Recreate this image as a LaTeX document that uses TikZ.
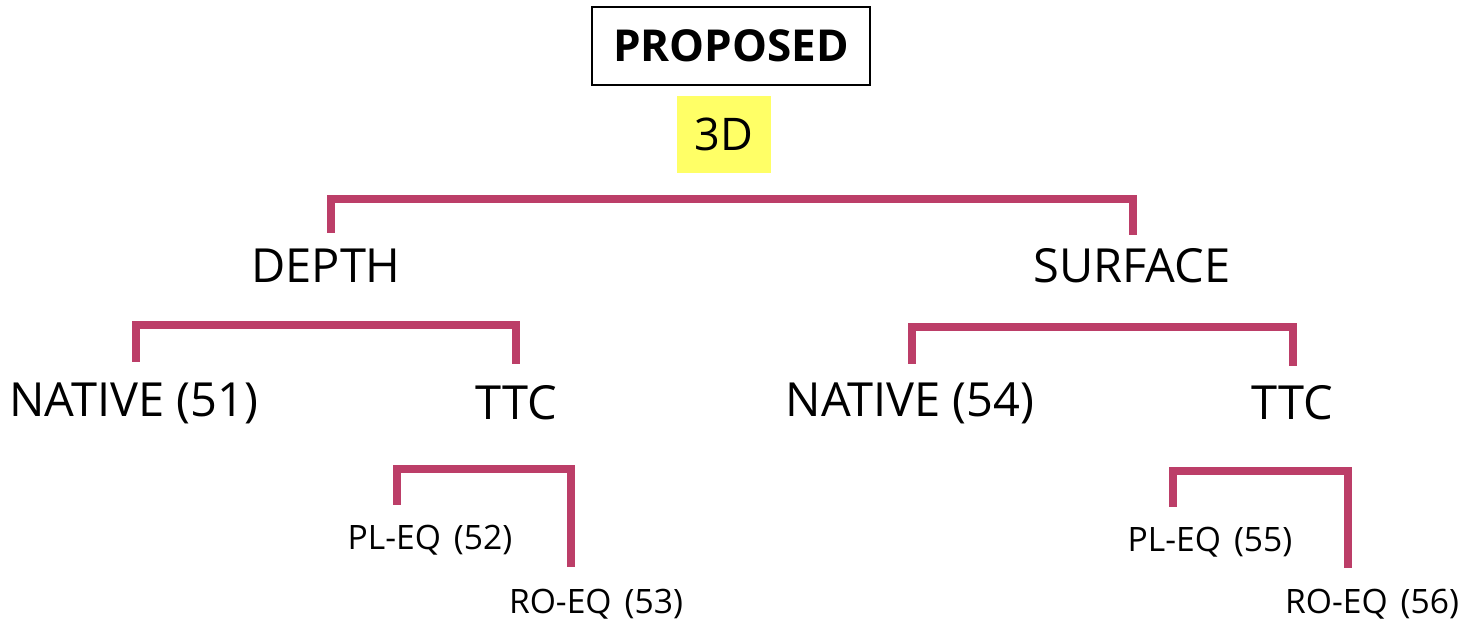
\documentclass[tikz,border=0pt]{standalone}
\usepackage{fontspec}
\setmainfont{Open Sans}
\definecolor{brk}{RGB}{188,62,104}
\definecolor{hl}{RGB}{255,255,102}
\newcommand{\gap}{\hspace{6.5pt}}
\begin{document}
\begin{tikzpicture}[x=0.5pt,y=-0.5pt,
  lbl/.style={inner sep=0pt, anchor=center, font=\fontsize{23.5}{28}\selectfont},
  sml/.style={inner sep=0pt, anchor=center, font=\fontsize{16.8}{20}\selectfont},
  br/.style={draw=brk, line width=4pt, line join=miter}]
\useasboundingbox (0,0) rectangle (1466,624);
% title
\node[draw=black, line width=1pt, minimum width=139pt, minimum height=39pt, inner sep=0pt,
      font=\bfseries\fontsize{22}{26}\selectfont] (prop) at (731,46) {PROPOSED};
\node[fill=hl, minimum width=47pt, minimum height=38.5pt, inner sep=0pt,
      font=\fontsize{22.5}{26}\selectfont] (td) at (724,134.5) {3D};
% level 1
\node[lbl] (depth) at (326,266) {DEPTH};
\node[lbl] (surf) at (1132,266) {SURFACE};
% level 2
\node[lbl] (nat1) at (134,403) {NATIVE (51)};
\node[lbl] (ttc1) at (516,403) {TTC};
\node[lbl] (nat2) at (910,403) {NATIVE (54)};
\node[lbl] (ttc2) at (1292,403) {TTC};
% level 3
\node[sml] (pl1) at (430,540) {PL-EQ\gap(52)};
\node[sml] (ro1) at (596,604) {RO-EQ\gap(53)};
\node[sml] (pl2) at (1210,542) {PL-EQ\gap(55)};
\node[sml] (ro2) at (1372,604) {RO-EQ\gap(56)};
% bracket coordinates
\coordinate (a1) at (331,233); \coordinate (a2) at (1133,235); \coordinate (at) at (0,199);
\coordinate (b1) at (136,362); \coordinate (b2) at (516,364); \coordinate (bt) at (0,325);
\coordinate (c1) at (912,364); \coordinate (c2) at (1293,366); \coordinate (ct) at (0,327);
\coordinate (d1) at (397,505); \coordinate (d2) at (571,567); \coordinate (dt) at (0,469);
\coordinate (e1) at (1173,507); \coordinate (e2) at (1348,568); \coordinate (et) at (0,471);
% connectors
\draw[br] (a1) -- (a1 |- at) -- (a2 |- at) -- (a2);
\draw[br] (b1) -- (b1 |- bt) -- (b2 |- bt) -- (b2);
\draw[br] (c1) -- (c1 |- ct) -- (c2 |- ct) -- (c2);
\draw[br] (d1) -- (d1 |- dt) -- (d2 |- dt) -- (d2);
\draw[br] (e1) -- (e1 |- et) -- (e2 |- et) -- (e2);
\end{tikzpicture}
\end{document}
